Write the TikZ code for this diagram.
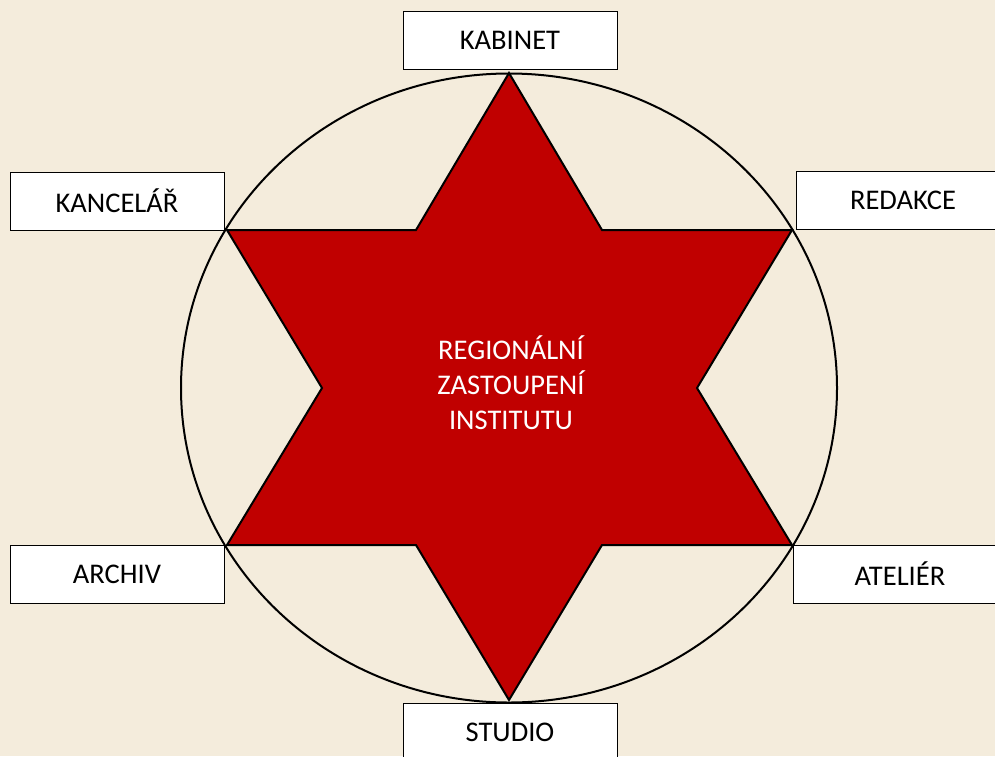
\documentclass[tikz,border=0pt]{standalone}
\usepackage{fontspec}
\setmainfont{Carlito}
\definecolor{bg}{HTML}{F4ECDC}
\definecolor{starred}{HTML}{C00000}
\begin{document}
\begin{tikzpicture}[x=1pt,y=-1pt,
  label box/.style={draw=black, line width=1pt, fill=white, minimum width=214pt, minimum height=58pt, inner sep=0pt, font=\fontsize{28.5}{32}\selectfont},
  center text/.style={text=white, align=center, font=\fontsize{28.5}{35}\selectfont}]
\useasboundingbox (0,0) rectangle (995,756);
\clip (0,0) rectangle (995,756);
\fill[bg] (0,0) rectangle (995,756);
% circle
\draw[line width=2pt] (509,388) ellipse [x radius=328pt, y radius=314.5pt];
% star
\coordinate (t) at (509,73);
\coordinate (ur) at (792,230);
\coordinate (lr) at (792,545);
\coordinate (b) at (509,700);
\coordinate (ll) at (227,545);
\coordinate (ul) at (227,230);
\coordinate (i1) at (602,230);
\coordinate (i2) at (697,388);
\coordinate (i3) at (602,545);
\coordinate (i4) at (416,545);
\coordinate (i5) at (322,388);
\coordinate (i6) at (416,230);
\draw[fill=starred, line width=2pt, line join=miter] (t) -- (i1) -- (ur) -- (i2) -- (lr) -- (i3) -- (b) -- (i4) -- (ll) -- (i5) -- (ul) -- (i6) -- cycle;
\node[center text] (center) at (511,383) {REGIONÁLNÍ\\ZASTOUPENÍ\\INSTITUTU};
% boxes
\node[label box] (kabinet) at (510,40) {KABINET};
\node[label box] (kancelar) at (117,201) {KANCELÁŘ};
\node[label box] (redakce) at (903,200) {REDAKCE};
\node[label box] (archiv) at (117,574) {ARCHIV};
\node[label box] (atelier) at (900,574) {ATELIÉR};
\node[label box] (studio) at (510,732) {STUDIO};
\end{tikzpicture}
\end{document}
